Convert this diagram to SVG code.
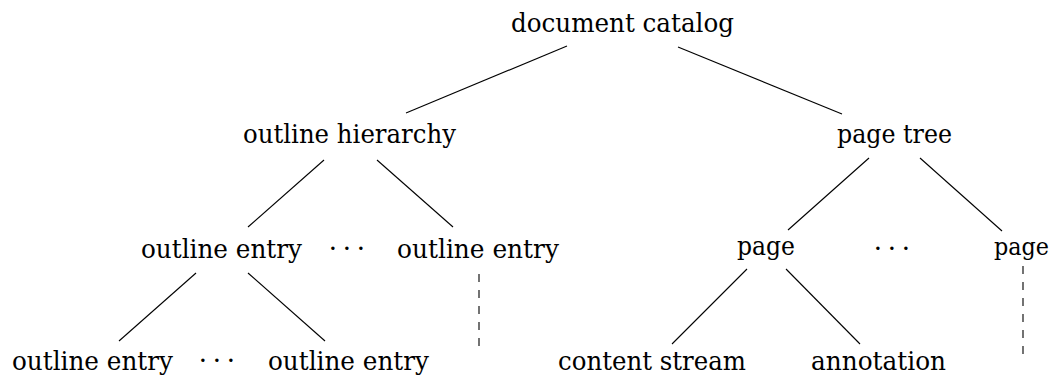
<svg xmlns="http://www.w3.org/2000/svg" width="1055" height="376" viewBox="0 0 1055 376">
<style>
  .lbl { font-size: 26px; fill: #000; }
  .dots { text-anchor: middle; }
  .edge { stroke: #000; stroke-width: 1.1; fill: none; }
  .dash { stroke: #000; stroke-width: 1.1; fill: none; stroke-dasharray: 8 8; }
</style>
<rect width="1055" height="376" fill="#fff"/>
<g id="connectors">
  <line class="edge" x1="567" y1="46" x2="406" y2="113"/>
  <line class="edge" x1="678" y1="47" x2="842" y2="114"/>
  <line class="edge" x1="324" y1="160" x2="248" y2="227"/>
  <line class="edge" x1="377" y1="160" x2="453" y2="227"/>
  <line class="edge" x1="196" y1="273" x2="119" y2="341"/>
  <line class="edge" x1="248" y1="273" x2="325" y2="341"/>
  <line class="dash" x1="479" y1="274" x2="479" y2="354"/>
  <line class="edge" x1="869" y1="158" x2="788" y2="230"/>
  <line class="edge" x1="920" y1="158" x2="1002" y2="231"/>
  <line class="edge" x1="747" y1="269" x2="672" y2="344"/>
  <line class="edge" x1="786" y1="269" x2="860" y2="344"/>
  <line class="dash" x1="1023" y1="266" x2="1023" y2="354"/>
</g>
<g font-family="DejaVu Serif, serif">
<g id="document-catalog"><text class="lbl" x="511" y="32" textLength="223" lengthAdjust="spacingAndGlyphs">document catalog</text></g>
<g id="outline-hierarchy"><text class="lbl" x="243" y="143" textLength="213" lengthAdjust="spacingAndGlyphs">outline hierarchy</text></g>
<g id="page-tree"><text class="lbl" x="837" y="143" textLength="115" lengthAdjust="spacingAndGlyphs">page tree</text></g>
<g id="outline-entry-1"><text class="lbl" x="141" y="258" textLength="161" lengthAdjust="spacingAndGlyphs">outline entry</text></g>
<g id="outline-dots"><text class="lbl dots" x="333 347 361" y="257">···</text></g>
<g id="outline-entry-2"><text class="lbl" x="397" y="258" textLength="162" lengthAdjust="spacingAndGlyphs">outline entry</text></g>
<g id="page-1"><text class="lbl" x="737" y="255" textLength="58" lengthAdjust="spacingAndGlyphs">page</text></g>
<g id="page-dots"><text class="lbl dots" x="878 892 906" y="257">···</text></g>
<g id="page-2"><text class="lbl" font-size="24" style="font-size:24px" x="1049" y="255" text-anchor="end" textLength="55" lengthAdjust="spacingAndGlyphs">page</text></g>
<g id="outline-entry-3"><text class="lbl" x="12" y="370" textLength="161" lengthAdjust="spacingAndGlyphs">outline entry</text></g>
<g id="sub-dots"><text class="lbl dots" x="203 217 231" y="369">···</text></g>
<g id="outline-entry-4"><text class="lbl" x="268" y="370" textLength="161" lengthAdjust="spacingAndGlyphs">outline entry</text></g>
<g id="content-stream"><text class="lbl" x="558" y="370" textLength="188" lengthAdjust="spacingAndGlyphs">content stream</text></g>
<g id="annotation"><text class="lbl" x="811" y="370" textLength="135" lengthAdjust="spacingAndGlyphs">annotation</text></g>
</g>
</svg>
